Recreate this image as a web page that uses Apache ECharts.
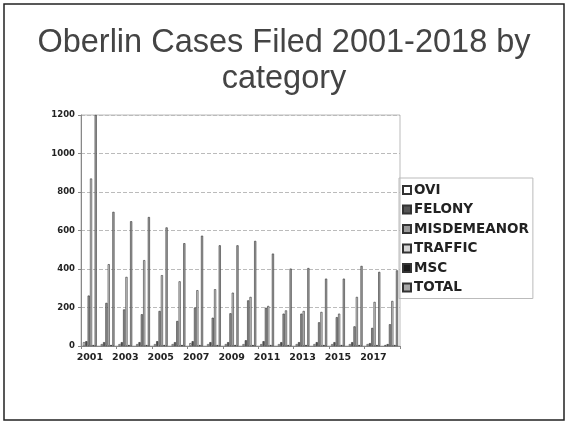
<!DOCTYPE html>
<html><head><meta charset="utf-8">
<script src="https://cdn.jsdelivr.net/npm/echarts@6/dist/echarts.min.js"></script>
<style>html,body{margin:0;padding:0;background:#fff}#c{width:568px;height:425px}</style>
</head><body><div id="c"></div>
<script>
const years = ['2001','2002','2003','2004','2005','2006','2007','2008','2009','2010','2011','2012','2013','2014','2015','2016','2017','2018'];
const ovi =         [20, 10, 10, 10, 10, 10, 15, 10, 10, 10, 10, 10, 10, 10, 10, 10, 10, 5];
const felony =      [25, 20, 20, 20, 25, 20, 25, 20, 20, 30, 25, 20, 20, 20, 20, 20, 15, 10];
const misdemeanor = [262, 224, 190, 165, 182, 130, 200, 147, 170, 237, 199, 168, 168, 123, 150, 102, 94, 113];
const traffic =     [870, 425, 359, 446, 368, 336, 290, 295, 277, 255, 208, 185, 182, 177, 168, 255, 229, 234];
const msc =         [5, 5, 5, 5, 5, 5, 5, 5, 5, 5, 5, 5, 5, 5, 5, 5, 5, 5];
const total =       [1200, 697, 648, 670, 616, 534, 573, 523, 523, 546, 480, 402, 405, 350, 350, 416, 385, 393];
const yTicks = [0, 200, 400, 600, 800, 1000, 1200];

const names = ['OVI','FELONY','MISDEMEANOR','TRAFFIC','MSC','TOTAL'];
const values = [ovi, felony, misdemeanor, traffic, msc, total];
const fills = ['#ffffff','#555555','#9a9a9a','#d6d6d6','#1a1a1a','#a8a8a8'];

const chart = echarts.init(document.getElementById('c'), null, {renderer:'canvas'});
chart.setOption({
  animation:false,
  backgroundColor:'#fff',
  title:{
    text:'Oberlin Cases Filed 2001-2018 by\ncategory',
    left:'center', top:20,
    textStyle:{fontFamily:'Liberation Sans', fontSize:32.5, fontWeight:'normal', color:'#444', lineHeight:36}
  },
  graphic:[{type:'rect', shape:{x:4, y:4, width:560, height:416}, style:{fill:'none', stroke:'#222', lineWidth:1.5}, silent:true}],
  legend:{
    orient:'vertical', left:399, top:178,
    itemWidth:8, itemHeight:8, itemGap:5.5,
    padding:[5,4,4,3],
    borderColor:'#bbb', borderWidth:1,
    textStyle:{fontFamily:'DejaVu Sans', fontSize:13.5, fontWeight:'bold', color:'#222', padding:[0,0,0,-2]},
    icon:'rect',
    data:names
  },
  grid:{left:81, right:168, top:115, bottom:79, show:true, borderColor:'#bbb', borderWidth:1},
  xAxis:{
    type:'category', data:years,
    axisLine:{lineStyle:{color:'#888'}},
    axisTick:{show:true, alignWithLabel:false, lineStyle:{color:'#888'}, length:3},
    axisLabel:{interval:1, fontFamily:'DejaVu Sans', fontSize:9.5, fontWeight:'bold', color:'#222', margin:7}
  },
  yAxis:{
    type:'value', min:yTicks[0], max:yTicks[yTicks.length-1], interval:200,
    axisLine:{show:true, lineStyle:{color:'#888'}},
    axisTick:{show:true, length:3, lineStyle:{color:'#888'}},
    axisLabel:{fontFamily:'DejaVu Sans', fontSize:8.5, fontWeight:'bold', color:'#222', margin:6, formatter:v=>String(v)},
    splitLine:{lineStyle:{color:'#bbb', type:'dashed'}}
  },
  series: names.map((n,i)=>({
    name:n, type:'bar', data:values[i],
    barGap:'10%', barCategoryGap:'22%',
    itemStyle:{color:fills[i], borderColor:'#333', borderWidth:0.6}
  }))
});
</script></body></html>
